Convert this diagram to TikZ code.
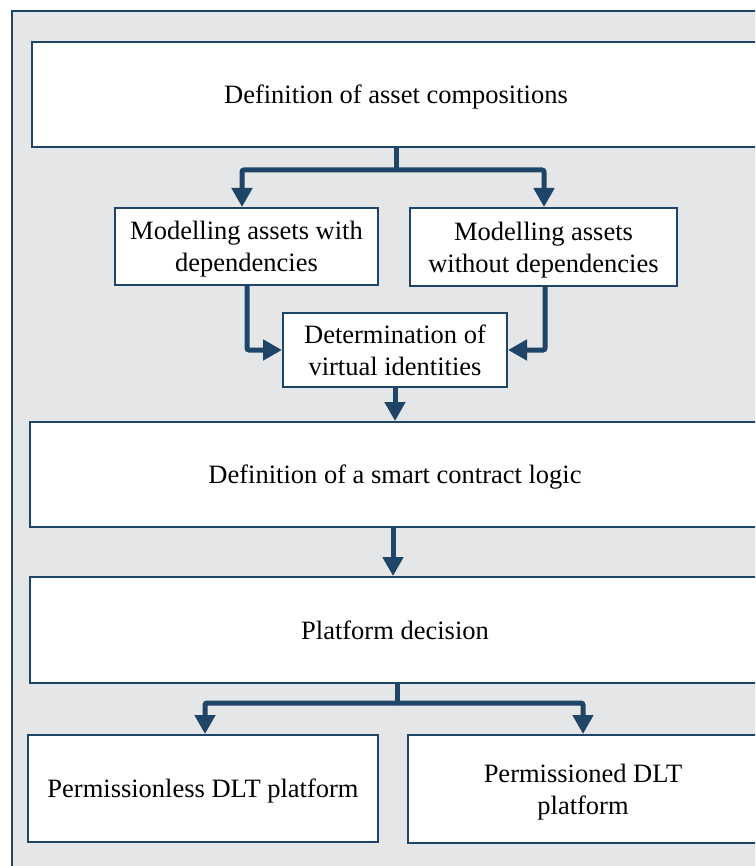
\documentclass[tikz,border=0pt]{standalone}
\usepackage{fontspec}
\setmainfont{Liberation Serif}
\usetikzlibrary{arrows.meta}
\definecolor{navy}{RGB}{30,68,104}
\definecolor{panel}{RGB}{229,230,232}
\tikzset{
  box/.style={draw=navy, line width=2pt, fill=white, inner sep=0pt,
    text depth=0pt, align=center, font=\fontsize{26.5}{32}\selectfont},
  link/.style={draw=navy, line width=5pt, rounded corners=2pt},
  flow/.style={link, -{Triangle[width=20pt,length=19pt]}}
}
\begin{document}
\begin{tikzpicture}[x=1pt,y=-1pt]
  \useasboundingbox (0,0) rectangle (755,866);
  \clip (0,0) rectangle (755,866);
  % background panel
  \draw[navy, line width=2pt, fill=panel] (12,11) rectangle (790,900);

  % boxes
  \node[box, minimum width=728pt, minimum height=105pt] (top) at (396,94.5)
    {Definition of asset compositions};
  \node[box, minimum width=263pt, minimum height=77pt] (mdep) at (246.5,246.5)
    {Modelling assets with\\dependencies};
  \node[box, minimum width=267pt, minimum height=78pt] (mnodep) at (543.5,247)
    {Modelling assets\\without dependencies};
  \node[box, minimum width=224pt, minimum height=74pt] (det) at (395,350)
    {Determination of\\virtual identities};
  \node[box, minimum width=730pt, minimum height=105pt] (smart) at (395,474.5)
    {Definition of a smart contract logic};
  \node[box, minimum width=730pt, minimum height=106pt] (plat) at (395,630)
    {Platform decision};
  \node[box, minimum width=350pt, minimum height=107pt] (pless) at (203,788.5)
    {Permissionless DLT platform};
  \node[box, minimum width=350pt, minimum height=108pt] (pned) at (583,789)
    {Permissioned DLT\\platform};

  % connectors
  \coordinate (s1) at (396,170);
  \draw[link] (top.south) -- (s1);
  \draw[flow] (s1) -| ([xshift=-4.5pt]mdep.north);
  \draw[flow] (s1) -| ([xshift=0.5pt]mnodep.north);
  \draw[flow] ([xshift=0.5pt]mdep.south) |- (det.west);
  \draw[flow] ([xshift=1.5pt]mnodep.south) |- (det.east);
  \draw[flow] (det.south) -- (smart.north);
  \draw[flow] ([xshift=-2pt]smart.south) -- ([xshift=-2pt]plat.north);
  \coordinate (s2) at (397,703);
  \draw[link] ([xshift=2pt]plat.south) -- (s2);
  \draw[flow] (s2) -| ([xshift=2pt]pless.north);
  \draw[flow] (s2) -| (pned.north);
\end{tikzpicture}
\end{document}
